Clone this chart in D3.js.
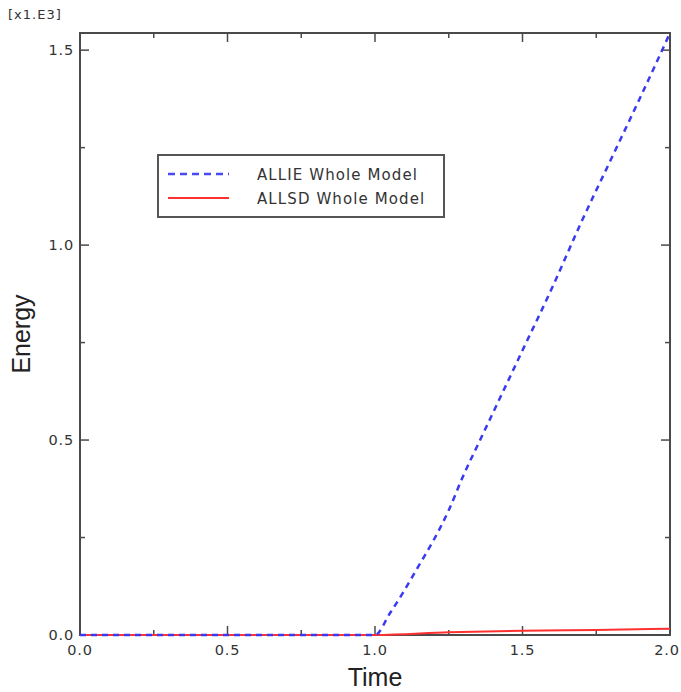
<!DOCTYPE html>
<html>
<head>
<meta charset="utf-8">
<script src="https://cdn.jsdelivr.net/npm/d3@7"></script>
<style>
  body { margin: 0; background: #fff; }
  svg { display: block; }
</style>
</head>
<body>
<div id="chart"></div>
<script>
// Data (energy in units of 1e3)
const allieTime = [0, 1.0, 1.05, 1.1, 1.15, 1.2, 1.25, 1.3, 1.35, 1.4, 1.5, 1.6, 1.7, 1.8, 1.9, 2.0];
const allieEnergy = [0, 0, 0.055, 0.115, 0.18, 0.245, 0.32, 0.41, 0.49, 0.57, 0.73, 0.89, 1.06, 1.22, 1.38, 1.544];
const allsdTime = [0, 1.0, 1.25, 1.5, 1.75, 2.0];
const allsdEnergy = [0, 0, 0.007, 0.011, 0.013, 0.016];
const seriesNames = ["ALLIE Whole Model", "ALLSD Whole Model"];
const xTicks = [0, 0.5, 1.0, 1.5, 2.0];
const yTicks = [0, 0.5, 1.0, 1.5];
const minorX = [0.25, 0.75, 1.25, 1.75];
const minorY = [0.25, 0.75, 1.25];

const width = 681, height = 692;
const plotLeft = 80, plotRight = 670, plotTop = 33, plotBottom = 635;

const svg = d3.select("#chart").append("svg")
    .attr("width", width)
    .attr("height", height);

const x = d3.scaleLinear().domain([0, 2]).range([plotLeft, plotRight]);
const y = d3.scaleLinear().domain([0, 1.544]).range([plotBottom, plotTop]);

const axisColor = "#4a4a4a";
const tickFont = "DejaVu Sans, Verdana, sans-serif";

// frame
svg.append("rect")
    .attr("x", plotLeft).attr("y", plotTop)
    .attr("width", plotRight - plotLeft).attr("height", plotBottom - plotTop)
    .attr("fill", "none").attr("stroke", axisColor).attr("stroke-width", 2);

// ticks on all four sides, pointing inward
const tickG = svg.append("g").attr("stroke", axisColor).attr("stroke-width", 1.5);
xTicks.forEach(t => {
    tickG.append("line").attr("x1", x(t)).attr("x2", x(t)).attr("y1", plotBottom).attr("y2", plotBottom - 9);
    tickG.append("line").attr("x1", x(t)).attr("x2", x(t)).attr("y1", plotTop).attr("y2", plotTop + 9);
});
minorX.forEach(t => {
    tickG.append("line").attr("x1", x(t)).attr("x2", x(t)).attr("y1", plotBottom).attr("y2", plotBottom - 5);
    tickG.append("line").attr("x1", x(t)).attr("x2", x(t)).attr("y1", plotTop).attr("y2", plotTop + 5);
});
yTicks.forEach(v => {
    tickG.append("line").attr("x1", plotLeft).attr("x2", plotLeft + 9).attr("y1", y(v)).attr("y2", y(v));
    tickG.append("line").attr("x1", plotRight).attr("x2", plotRight - 9).attr("y1", y(v)).attr("y2", y(v));
});
minorY.forEach(v => {
    tickG.append("line").attr("x1", plotLeft).attr("x2", plotLeft + 5).attr("y1", y(v)).attr("y2", y(v));
    tickG.append("line").attr("x1", plotRight).attr("x2", plotRight - 5).attr("y1", y(v)).attr("y2", y(v));
});

// tick labels (last one nudged so it stays inside the page)
svg.selectAll(".xlab").data(xTicks).enter().append("text")
    .attr("x", d => Math.min(x(d), width - 14))
    .attr("y", plotBottom + 20)
    .attr("text-anchor", "middle")
    .attr("font-family", tickFont).attr("font-size", 14.5).attr("letter-spacing", 0.8).attr("fill", "#333")
    .text(d => d.toFixed(1));

svg.selectAll(".ylab").data(yTicks).enter().append("text")
    .attr("x", plotLeft - 6).attr("y", d => y(d) + 5)
    .attr("text-anchor", "end")
    .attr("font-family", tickFont).attr("font-size", 14.5).attr("letter-spacing", 0.8).attr("fill", "#333")
    .text(d => d.toFixed(1));

svg.append("text")
    .attr("x", 8).attr("y", 19)
    .attr("font-family", tickFont).attr("font-size", 13).attr("letter-spacing", 1).attr("fill", "#333")
    .text("[x1.E3]");

// axis titles
svg.append("text")
    .attr("x", (plotLeft + plotRight) / 2).attr("y", 686)
    .attr("text-anchor", "middle")
    .attr("font-family", "Liberation Sans, Arial, sans-serif").attr("font-size", 25).attr("fill", "#222")
    .text("Time");

svg.append("text")
    .attr("transform", `translate(30, ${(plotTop + plotBottom) / 2}) rotate(-90)`)
    .attr("text-anchor", "middle")
    .attr("font-family", "Liberation Sans, Arial, sans-serif").attr("font-size", 25).attr("fill", "#222")
    .text("Energy");

// curves
const line = d3.line().x(d => x(d[0])).y(d => y(d[1])).curve(d3.curveMonotoneX);

svg.append("path")
    .datum(d3.zip(allsdTime, allsdEnergy))
    .attr("d", line)
    .attr("fill", "none").attr("stroke", "#ff3030").attr("stroke-width", 2);

svg.append("path")
    .datum(d3.zip(allieTime, allieEnergy))
    .attr("d", line)
    .attr("fill", "none").attr("stroke", "#3a3af0").attr("stroke-width", 2.5)
    .attr("stroke-dasharray", "6,5");

// legend
const lg = svg.append("g");
lg.append("rect")
    .attr("x", 158).attr("y", 155).attr("width", 286).attr("height", 62)
    .attr("fill", "#fff").attr("stroke", "#555").attr("stroke-width", 2);
const legendStyles = [
    { color: "#4a4af5", dash: "7,5", w: 2.5 },
    { color: "#ff3030", dash: null, w: 2 }
];
seriesNames.forEach((name, i) => {
    const ly = 174 + i * 24;
    lg.append("line")
        .attr("x1", 168).attr("x2", 229).attr("y1", ly).attr("y2", ly)
        .attr("stroke", legendStyles[i].color).attr("stroke-width", legendStyles[i].w)
        .attr("stroke-dasharray", legendStyles[i].dash);
    lg.append("text")
        .attr("x", 257).attr("y", ly + 6)
        .attr("font-family", tickFont).attr("font-size", 15).attr("letter-spacing", 1.1).attr("fill", "#333")
        .text(name);
});
</script>
</body>
</html>
